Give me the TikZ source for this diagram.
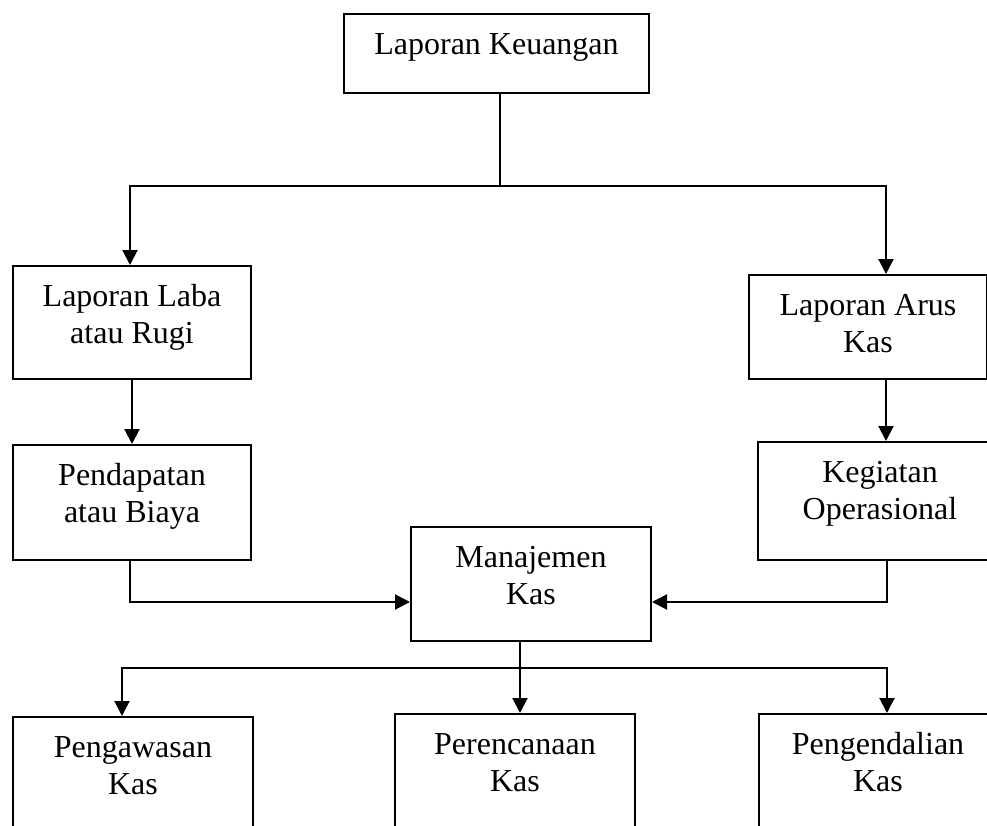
\documentclass[tikz,border=0pt]{standalone}
\usepackage{fontspec}
\setmainfont{Liberation Serif}
\usetikzlibrary{arrows.meta}

\newlength{\pxu}\setlength{\pxu}{0.5pt}
% box text: width, height, text (top aligned)
\newcommand{\isi}[3]{\parbox[c][#2\pxu][t]{#1\pxu}{\centering\rule{0pt}{40\pxu}#3}}

\begin{document}
\begin{tikzpicture}[x=0.5pt,y=-0.5pt]
  \tikzset{>={Triangle[length=7.5pt,width=7.5pt]}}
  \tikzset{kotak/.style={draw,line width=1pt,inner sep=0pt,anchor=north west,font=\fontsize{16pt}{18.5pt}\selectfont},
    garis/.style={line width=1pt}}

  \useasboundingbox (0,0) rectangle (987,826);
  \clip (0,0) rectangle (987,826);

  \node[kotak] (lk) at (343,13) {\isi{305}{79}{Laporan Keuangan}};
  \node[kotak] (llr) at (12,265) {\isi{238}{113}{Laporan Laba\\atau Rugi}};
  \node[kotak] (lak) at (748,274) {\isi{238}{104}{Laporan Arus\\Kas}};
  \node[kotak] (pab) at (12,444) {\isi{238}{115}{Pendapatan\\atau Biaya}};
  \node[kotak] (ko) at (757,441) {\isi{244}{118}{Kegiatan\\Operasional}};
  \node[kotak] (mk) at (410,526) {\isi{240}{114}{Manajemen\\Kas}};
  \node[kotak] (pwk) at (12,716) {\isi{240}{140}{Pengawasan\\Kas}};
  \node[kotak] (prk) at (394,713) {\isi{240}{140}{Perencanaan\\Kas}};
  \node[kotak] (pdk) at (758,713) {\isi{238}{140}{Pengendalian\\Kas}};

  \coordinate (j1) at (500,186);
  \coordinate (j1a) at (130,186);
  \coordinate (j1b) at (886,186);
  \coordinate (m1) at (130,602);
  \coordinate (m2) at (887,602);
  \coordinate (b1) at (520,668);
  \coordinate (b0) at (122,668);
  \coordinate (b2) at (887,668);

  \draw[garis] (lk.south -| j1) -- (j1);
  \draw[garis,<->] (llr.north -| j1a) -- (j1a) -- (j1b) -- (lak.north -| j1b);

  \draw[garis,->] (llr) -- (pab);
  \draw[garis,->] (lak.south -| j1b) -- (ko.north -| j1b);

  \draw[garis,->] (pab.south -| m1) -- (m1) -- (m1 -| mk.west);
  \draw[garis,->] (ko.south -| m2) -- (m2) -- (m2 -| mk.east);

  \draw[garis,->] (mk.south -| b1) -- (prk.north -| b1);
  \draw[garis,<->] (pwk.north -| b0) -- (b0) -- (b2) -- (pdk.north -| b2);

\end{tikzpicture}
\end{document}
